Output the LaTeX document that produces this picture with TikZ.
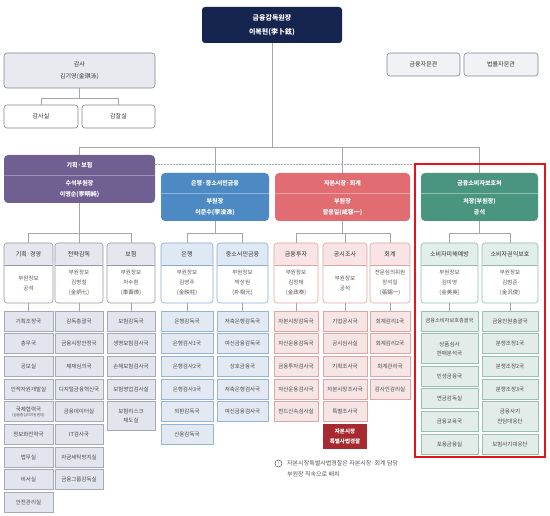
\documentclass[tikz,border=0pt]{standalone}
\usepackage{fontspec}
\setmainfont{Noto Sans CJK KR}
\definecolor{topcol}{HTML}{16254F}
\definecolor{conncol}{HTML}{A3A6AF}
\definecolor{Adiv}{HTML}{705F91}\definecolor{Aline}{HTML}{9C90B5}
\definecolor{Bdiv}{HTML}{4D8AC3}\definecolor{Bline}{HTML}{8CB4DA}
\definecolor{Cdiv}{HTML}{E16C71}\definecolor{Cline}{HTML}{EFA2A5}
\definecolor{Ddiv}{HTML}{4A9580}\definecolor{Dline}{HTML}{8CC0AF}
\definecolor{Ahd}{HTML}{E6E7EE}\definecolor{Abd}{HTML}{9297A8}
\definecolor{Afill}{HTML}{E3E5EE}\definecolor{Aedge}{HTML}{A5AABA}
\definecolor{Bhd}{HTML}{DFE9F4}\definecolor{Bbd}{HTML}{86AAD0}
\definecolor{Bfill}{HTML}{E2E9F2}\definecolor{Bedge}{HTML}{95B4D4}
\definecolor{Chd}{HTML}{F8E4E4}\definecolor{Cbd}{HTML}{E0A2A4}
\definecolor{Cfill}{HTML}{F6E5E5}\definecolor{Cedge}{HTML}{DFA5A7}
\definecolor{Dhd}{HTML}{E1EEE9}\definecolor{Dbd}{HTML}{8FBCAC}
\definecolor{Dfill}{HTML}{E2EDE9}\definecolor{Dedge}{HTML}{98C1B3}
\definecolor{redframe}{HTML}{E2151B}
\definecolor{spcol}{HTML}{A62A30}
\definecolor{deptText}{HTML}{4A4A4A}
\definecolor{subText}{HTML}{555555}
\definecolor{gamfill}{HTML}{E8EAF0}\definecolor{gambd}{HTML}{7F8494}
\tikzset{
  conn/.style={draw=conncol, line width=0.6pt},
  dept/.style={draw=#1edge, fill=#1fill, line width=0.6pt, inner sep=0pt, outer sep=0pt,
    align=center, text=deptText, font=\fontsize{5.5}{9.5}\selectfont},
  divbox/.style={fill=#1div, rounded corners=4pt, inner sep=0pt, outer sep=0pt},
  divtxt/.style={inner sep=0pt, align=center, text=white, font=\bfseries\fontsize{6}{10.5}\selectfont},
  subbox/.style={draw=#1bd, fill=white, rounded corners=3pt, line width=0.6pt, inner sep=0pt, outer sep=0pt,
    minimum height=60pt,
    path picture={\fill[#1hd] (path picture bounding box.north west) rectangle ([yshift=-22pt]path picture bounding box.north east);
      \draw[#1bd, line width=0.6pt] ([yshift=-22pt]path picture bounding box.north west) -- ([yshift=-22pt]path picture bounding box.north east);}},
  shtxt/.style={inner sep=0pt, align=center, text=black!80, font=\fontsize{6}{10}\selectfont},
  sbtxt/.style={inner sep=0pt, align=center, text=subText, font=\fontsize{5.5}{10}\selectfont},
  plain/.style={draw=gambd, rounded corners=3pt, line width=0.6pt, inner sep=0pt, outer sep=0pt,
    align=center, text=black!80, font=\fontsize{6}{12}\selectfont},
}
\newcommand\bx[7]{\node[#1,minimum width={(#4-#2)*1pt},minimum height={(#5-#3)*1pt}] (#6) at ({(#2+#4)/2},{(#3+#5)/2}) {#7};}
\newcommand\drow[6]{\node[#1,minimum width={(#3-#2)*1pt},minimum height=20pt] (#5) at ({(#2+#3)/2},{321+(#4-1)*22.667}) {#6};}
\newcommand\subh[6]{\node[subbox=#1,minimum width={(#3-#2)*1pt}] (#4) at ({(#2+#3)/2},273) {};
  \node[shtxt] (#4h) at ({(#2+#3)/2},254) {#5};
  \node[sbtxt] (#4b) at ({(#2+#3)/2},283) {#6};}
\begin{document}
\begin{tikzpicture}[x=1pt,y=-1pt]
\useasboundingbox (0,0) rectangle (550,516);
\fill[white] (0,0) rectangle (550,516);

% dashed line
\coordinate (dl1) at (155,164);
\coordinate (dl2) at (415,164);
\draw[conncol, line width=0.6pt, dash pattern=on 1.5pt off 1.5pt] (dl1) -- (dl2);

% top
\bx{fill=topcol, rounded corners=3pt, inner sep=0pt, align=center, text=white, font=\bfseries\fontsize{7}{14}\selectfont}{202}{7}{342}{43}{top}{금융감독원장\\이복현(李卜鉉)}
% audit
\bx{plain, fill=gamfill}{4}{53}{155}{88}{gam}{감사\\김기영(金琪泳)}
\bx{plain, fill=white}{4}{105}{78}{128}{gam1}{감사실}
\bx{plain, fill=white}{82}{105}{155}{128}{gam2}{감찰실}
\bx{plain, fill=gamfill!60!white}{387}{53}{460}{76}{adv1}{금융자문관}
\bx{plain, fill=gamfill!60!white}{464}{53}{538}{76}{adv2}{법률자문관}
\coordinate (gbus) at (79.5,98);
\draw[conn] (gam.south) -- (gbus) -| (gam1.north);
\draw[conn] (gbus) -| (gam2.north);

% divisions
\bx{divbox=A}{4}{155}{155}{203}{kb}{}
\bx{divbox=B}{161}{173}{269}{221}{bk}{}
\bx{divbox=C}{275}{173}{410}{221}{jb}{}
\bx{divbox=D}{421}{173}{538}{221}{gs}{}
\draw[Aline, line width=0.7pt] (4,175) -- (155,175);
\draw[Bline, line width=0.7pt] (161,193) -- (269,193);
\draw[Cline, line width=0.7pt] (275,193) -- (410,193);
\draw[Dline, line width=0.7pt] (421,193) -- (538,193);
\node[divtxt] (kbh) at (79.5,165) {기획·보험};
\node[divtxt] (kbb) at (79.5,189) {수석부원장\\이명순(李明純)};
\node[divtxt] (bkh) at (215,183) {은행·중소서민금융};
\node[divtxt] (bkb) at (215,207) {부원장\\이준수(李浚洙)};
\node[divtxt] (jbh) at (342.5,183) {자본시장·회계};
\node[divtxt] (jbb) at (342.5,207) {부원장\\함용일(咸容一)};
\node[divtxt] (gsh) at (479.5,183) {금융소비자보호처};
\node[divtxt] (gsb) at (479.5,207) {처장(부원장)\\공석};

% top bus
\coordinate (bus) at (272,147);
\draw[conn] (top.south) -- (bus);
\draw[conn] (bus) -| (kb.north);
\draw[conn] (bus) -| (bk.north);
\draw[conn] (bus) -| (jb.north);
\draw[conn] (bus) -| (gs.north);

% sub heads
\subh{A}{4}{53}{kA}{기획·경영}{부원장보\\공석}
\subh{A}{55}{103}{kB}{전략감독}{부원장보\\김병칠\\(金炳七)}
\subh{A}{107}{155}{kC}{보험}{부원장보\\차수환\\(車壽煥)}
\subh{B}{161}{213}{bA}{은행}{부원장보\\김영주\\(金映柱)}
\subh{B}{217}{268}{bB}{중소서민금융}{부원장보\\박상원\\(朴相元)}
\subh{C}{274}{318}{jA}{금융투자}{부원장보\\김정태\\(金政泰)}
\subh{C}{323}{367}{jB}{공시조사}{부원장보\\공석}
\subh{C}{370}{410}{jC}{회계}{전문심의위원\\장석일\\(張錫一)}
\subh{D}{421}{478}{gA}{소비자피해예방}{부원장보\\김미영\\(金美英)}
\subh{D}{482}{538}{gB}{소비자권익보호}{부원장보\\김범준\\(金汎俊)}

\coordinate (kbus) at (79.5,233);
\coordinate (bbus) at (215,233);
\coordinate (jbus) at (342.5,233);
\coordinate (gbus2) at (479.5,233);
\draw[conn] (kb.south) -- (kbus) -| (kA.north);
\draw[conn] (kbus) -| (kB.north);
\draw[conn] (kbus) -| (kC.north);
\draw[conn] (bk.south) -- (bbus) -| (bA.north);
\draw[conn] (bbus) -| (bB.north);
\draw[conn] (jb.south) -- (jbus) -| (jA.north);
\draw[conn] (jbus) -| (jB.north);
\draw[conn] (jbus) -| (jC.north);
\draw[conn] (gs.south) -- (gbus2) -| (gA.north);
\draw[conn] (gbus2) -| (gB.north);

% departments: 기획
\drow{dept=A}{4}{53}{1}{a1}{기획조정국}
\drow{dept=A}{4}{53}{2}{a2}{총무국}
\drow{dept=A}{4}{53}{3}{a3}{공보실}
\drow{dept=A}{4}{53}{4}{a4}{인적자원개발실}
\drow{dept=A}{4}{53}{5}{a5}{국제협력국\\[-4.5pt]{\fontsize{3.6}{4}\selectfont(금융중심지지원센터)}}
\drow{dept=A}{4}{53}{6}{a6}{정보화전략국}
\drow{dept=A}{4}{53}{7}{a7}{법무실}
\drow{dept=A}{4}{53}{8}{a8}{비서실}
\drow{dept=A}{4}{53}{9}{a9}{안전관리실}
\drow{dept=A}{55}{103}{1}{b1}{감독총괄국}
\drow{dept=A}{55}{103}{2}{b2}{금융시장안정국}
\drow{dept=A}{55}{103}{3}{b3}{제재심의국}
\drow{dept=A}{55}{103}{4}{b4}{디지털금융혁신국}
\drow{dept=A}{55}{103}{5}{b5}{금융데이터실}
\drow{dept=A}{55}{103}{6}{b6}{IT검사국}
\drow{dept=A}{55}{103}{7}{b7}{자금세탁방지실}
\drow{dept=A}{55}{103}{8}{b8}{금융그룹감독실}
\drow{dept=A}{107}{155}{1}{c1}{보험감독국}
\drow{dept=A}{107}{155}{2}{c2}{생명보험검사국}
\drow{dept=A}{107}{155}{3}{c3}{손해보험검사국}
\drow{dept=A}{107}{155}{4}{c4}{보험영업검사실}
\bx{dept=A}{107}{401.7}{155}{430.5}{c5}{보험리스크\\제도실}
\draw[conn] (kA.south) -- (a1.north);
\draw[conn] (kB.south) -- (b1.north);
\draw[conn] (kC.south) -- (c1.north);

% 은행
\drow{dept=B}{161}{213}{1}{d1}{은행감독국}
\drow{dept=B}{161}{213}{2}{d2}{은행검사1국}
\drow{dept=B}{161}{213}{3}{d3}{은행검사2국}
\drow{dept=B}{161}{213}{4}{d4}{은행검사3국}
\drow{dept=B}{161}{213}{5}{d5}{외환감독국}
\drow{dept=B}{161}{213}{6}{d6}{신용감독국}
\drow{dept=B}{217}{268}{1}{e1}{저축은행감독국}
\drow{dept=B}{217}{268}{2}{e2}{여신금융감독국}
\drow{dept=B}{217}{268}{3}{e3}{상호금융국}
\drow{dept=B}{217}{268}{4}{e4}{저축은행검사국}
\drow{dept=B}{217}{268}{5}{e5}{여신금융검사국}
\draw[conn] (bA.south) -- (d1.north);
\draw[conn] (bB.south) -- (e1.north);

% 자본
\drow{dept=C}{274}{318}{1}{f1}{자본시장감독국}
\drow{dept=C}{274}{318}{2}{f2}{자산운용감독국}
\drow{dept=C}{274}{318}{3}{f3}{금융투자검사국}
\drow{dept=C}{274}{318}{4}{f4}{자산운용검사국}
\drow{dept=C}{274}{318}{5}{f5}{펀드신속심사실}
\drow{dept=C}{323}{367}{1}{g1}{기업공시국}
\drow{dept=C}{323}{367}{2}{g2}{공시심사실}
\drow{dept=C}{323}{367}{3}{g3}{기획조사국}
\drow{dept=C}{323}{367}{4}{g4}{자본시장조사국}
\drow{dept=C}{323}{367}{5}{g5}{특별조사국}
\bx{fill=spcol, inner sep=0pt, align=center, text=white, font=\bfseries\fontsize{5.5}{10}\selectfont}{323}{424.3}{367}{449.5}{sp}{자본시장\\특별사법경찰}
\drow{dept=C}{370}{410}{1}{h1}{회계감리1국}
\drow{dept=C}{370}{410}{2}{h2}{회계감리2국}
\drow{dept=C}{370}{410}{3}{h3}{회계관리국}
\drow{dept=C}{370}{410}{4}{h4}{감사인감리실}
\draw[conn] (jA.south) -- (f1.north);
\draw[conn] (jB.south) -- (g1.north);
\draw[conn] (jC.south) -- (h1.north);

% 금소
\drow{dept=D}{421}{478}{1}{i1}{{\fontsize{5.2}{9}\selectfont 금융소비자보호총괄국}}
\bx{dept=D}{421}{333.7}{478}{363.7}{i2}{상품심사\\판매분석국}
\bx{dept=D}{421}{366}{478}{386}{i3}{민생금융국}
\bx{dept=D}{421}{388.7}{478}{408.7}{i4}{연금감독실}
\bx{dept=D}{421}{411.3}{478}{431.3}{i5}{금융교육국}
\bx{dept=D}{421}{434}{478}{454}{i6}{포용금융실}
\drow{dept=D}{482}{538}{1}{j1}{금융민원총괄국}
\drow{dept=D}{482}{538}{2}{j2}{분쟁조정1국}
\drow{dept=D}{482}{538}{3}{j3}{분쟁조정2국}
\drow{dept=D}{482}{538}{4}{j4}{분쟁조정3국}
\bx{dept=D}{482}{401.7}{538}{431.3}{j5}{금융사기\\전담대응단}
\bx{dept=D}{482}{434}{538}{454}{j6}{보험사기대응단}
\draw[conn] (gA.south) -- (i1.north);
\draw[conn] (gB.south) -- (j1.north);

% red frame
\draw[redframe, line width=2pt] (415,164) rectangle (545,457);

% note
\node[circle, draw=subText, line width=0.5pt, inner sep=0pt, minimum size=7pt, text=subText, font=\fontsize{4.5}{5}\selectfont] (info) at (278.5,463.5) {!};
\node[anchor=west, inner sep=0pt, text=subText, font=\fontsize{6}{8}\selectfont] (note1) at (287,463.5) {자본시장특별사법경찰은 자본시장·회계 담당};
\node[anchor=west, inner sep=0pt, text=subText, font=\fontsize{6}{8}\selectfont] (note2) at (287,474.5) {부원장 직속으로 배치};
\end{tikzpicture}
\end{document}
